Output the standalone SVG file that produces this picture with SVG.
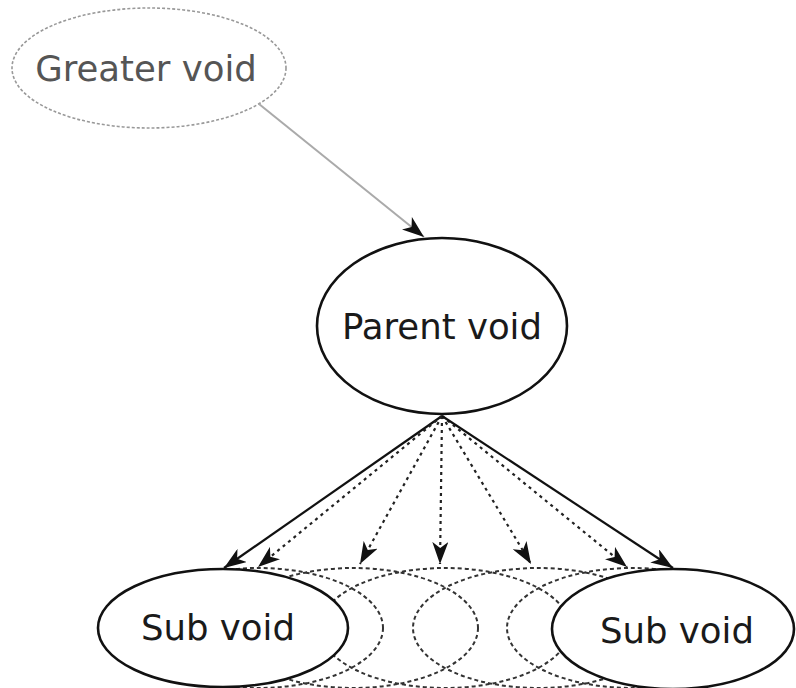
<svg xmlns="http://www.w3.org/2000/svg" width="796" height="688" viewBox="0 0 796 688">
<style>
  .solid { fill: #fff; stroke: #111; stroke-width: 2.6; }
  .ghost { fill: none; stroke: #333; stroke-width: 2; stroke-dasharray: 4 3; }
  .outer { fill: #fff; stroke: #999; stroke-width: 1.6; stroke-dasharray: 3 2; }
  .lbl { font-family: "DejaVu Sans", Verdana, sans-serif; font-size: 35.5px; text-anchor: middle; fill: #1a1a1a; }
  .grey { fill: #555; }
  .edge { fill: none; stroke: #111; stroke-width: 2.2; marker-end: url(#ah); }
  .dot { fill: none; stroke: #222; stroke-width: 2.2; stroke-dasharray: 3 4; marker-end: url(#ah); }
  .light { fill: none; stroke: #aaa; stroke-width: 2; marker-end: url(#ah); }
</style>
<defs>
  <marker id="ah" markerUnits="userSpaceOnUse" viewBox="0 0 22 16" refX="22" refY="8" markerWidth="22" markerHeight="16" orient="auto">
    <path d="M0,0 L22,8 L0,16 L6,8 Z" fill="#111"/>
  </marker>
</defs>
<rect width="796" height="688" fill="#fff"/>
<g id="greater-void">
  <ellipse class="outer" cx="149" cy="68" rx="137" ry="60"/>
  <text class="lbl grey" x="146" y="81">Greater void</text>
</g>
<g id="parent-void">
  <ellipse class="solid" cx="442" cy="326" rx="125" ry="88"/>
  <text class="lbl" x="442" y="339">Parent void</text>
</g>
<g id="possible-sub-voids">
  <ellipse class="ghost" cx="258" cy="628" rx="125" ry="60"/>
  <ellipse class="ghost" cx="353" cy="628" rx="125" ry="60"/>
  <ellipse class="ghost" cx="445" cy="628" rx="125" ry="60"/>
  <ellipse class="ghost" cx="538" cy="628" rx="125" ry="60"/>
  <ellipse class="ghost" cx="632" cy="628" rx="125" ry="60"/>
</g>
<g id="sub-void-left">
  <ellipse class="solid" cx="223" cy="628" rx="125" ry="59"/>
  <text class="lbl" x="218" y="640">Sub void</text>
</g>
<g id="sub-void-right">
  <ellipse class="solid" cx="673" cy="629" rx="121" ry="60"/>
  <text class="lbl" x="677" y="643">Sub void</text>
</g>
<g id="connectors">
  <line class="light" x1="259" y1="104" x2="424" y2="237"/>
  <line class="edge" x1="442" y1="416" x2="224" y2="568"/>
  <line class="dot" x1="442" y1="416" x2="258" y2="567"/>
  <line class="dot" x1="442" y1="416" x2="360" y2="564"/>
  <line class="dot" x1="442" y1="416" x2="440" y2="564"/>
  <line class="dot" x1="442" y1="416" x2="531" y2="564"/>
  <line class="dot" x1="442" y1="416" x2="627" y2="567"/>
  <line class="edge" x1="442" y1="416" x2="673" y2="568"/>
</g>
</svg>
